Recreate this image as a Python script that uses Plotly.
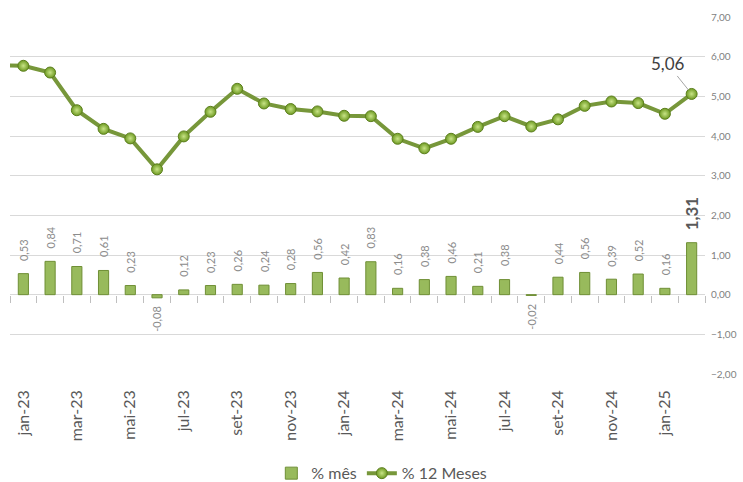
import plotly.graph_objects as go

# ---- data ----
months = ["jan-23", "fev-23", "mar-23", "abr-23", "mai-23", "jun-23", "jul-23", "ago-23",
          "set-23", "out-23", "nov-23", "dez-23", "jan-24", "fev-24", "mar-24", "abr-24",
          "mai-24", "jun-24", "jul-24", "ago-24", "set-24", "out-24", "nov-24", "dez-24",
          "jan-25", "fev-25"]
pct_mes = [0.53, 0.84, 0.71, 0.61, 0.23, -0.08, 0.12, 0.23, 0.26, 0.24, 0.28, 0.56,
           0.42, 0.83, 0.16, 0.38, 0.46, 0.21, 0.38, -0.02, 0.44, 0.56, 0.39, 0.52,
           0.16, 1.31]
prev_12m = 5.79  # dez-22 value, only visible as the line entering from the left edge
pct_12m = [5.77, 5.60, 4.65, 4.18, 3.94, 3.16, 3.99, 4.61, 5.19, 4.82, 4.68, 4.62,
           4.51, 4.50, 3.93, 3.69, 3.93, 4.23, 4.50, 4.24, 4.42, 4.76, 4.87, 4.83,
           4.56, 5.06]
y_ticks = [-2, -1, 0, 1, 2, 3, 4, 5, 6, 7]

idx = list(range(len(months)))
fmt = lambda v: f"{v:.2f}".replace(".", ",")

FONT = "Lato, 'Open Sans', sans-serif"
GRID = "#d9d9d9"
YMIN, YMAX = -2, 7

fig = go.Figure()
fig.add_trace(go.Bar(
    x=idx, y=pct_mes, name="% mês", xaxis="x2",
    marker=dict(color="#98BA5C", line=dict(color="#6F8F35", width=1)),
))
fig.add_trace(go.Scatter(
    x=[-1] + idx, y=[prev_12m] + pct_12m, name="% 12 Meses", mode="lines+markers",
    line=dict(color="#77973A", width=4),
    marker=dict(size=11, color="#6E9A22",
                gradient=dict(type="radial", color="#C8E486"),
                line=dict(color="#5C7F1E", width=1)),
))

# bar data labels (rotated, above positive bars / below negative bars)
last = len(pct_mes) - 1
for i, v in zip(idx, pct_mes):
    big = (i == last)
    fig.add_annotation(
        x=i, y=v, xref="x2", yref="y",
        text=("<b>" + fmt(v) + "</b>") if big else fmt(v),
        showarrow=False, textangle=-90,
        yanchor="bottom" if v >= 0 else "top",
        yshift=(10 if big else 11) if v >= 0 else -6,
        font=dict(size=17 if big else 11, color="#595959" if big else "#8c8c8c", family=FONT),
    )

fig.add_annotation(
    x=idx[-1], y=pct_12m[-1], text=fmt(pct_12m[-1]),
    showarrow=True, arrowhead=0, arrowwidth=1, arrowcolor="#a6a6a6",
    ax=-24, ay=-30, standoff=5,
    font=dict(size=17, color="#404040", family=FONT),
)

fig.update_layout(
    width=743, height=482,
    margin=dict(l=10, r=38, t=17, b=108, autoexpand=False),
    paper_bgcolor="white", plot_bgcolor="white",
    separators=",.",
    font=dict(family=FONT, color="#595959"),
    bargap=0.62,
    showlegend=True,
    legend=dict(orientation="h", x=0.535, xanchor="center", y=-0.278, yanchor="middle",
                font=dict(size=16, color="#595959"), itemwidth=30, traceorder="normal"),
    xaxis=dict(
        range=[-0.5, len(months) - 0.5],
        tickvals=idx[::2], ticktext=months[::2], tickangle=-90,
        tickfont=dict(size=16, color="#595959"), ticklabelstandoff=12,
        showgrid=False, zeroline=False, showline=False, ticks="", automargin=False,
    ),
    xaxis2=dict(
        overlaying="x", anchor="free",
        position=(0 - YMIN) / (YMAX - YMIN),
        range=[-0.5, len(months) - 0.5],
        tickvals=[i - 0.5 for i in range(len(months) + 1)],
        ticks="outside", ticklen=7, tickcolor="#bfbfbf", tickwidth=1,
        showticklabels=False, showgrid=False, zeroline=False, showline=False, automargin=False,
    ),
    yaxis=dict(
        range=[YMIN, YMAX], side="right", tickvals=y_ticks, tickformat=".2f",
        tickfont=dict(size=10, color="#7f7f7f"), ticklabelstandoff=5,
        showgrid=True, gridcolor=GRID, gridwidth=1, automargin=False,
        zeroline=True, zerolinecolor=GRID, zerolinewidth=1, showline=False,
    ),
)

fig.write_html("out.html", config={"displayModeBar": False},
               post_script="document.body.style.margin='0';document.body.style.padding='0';")
